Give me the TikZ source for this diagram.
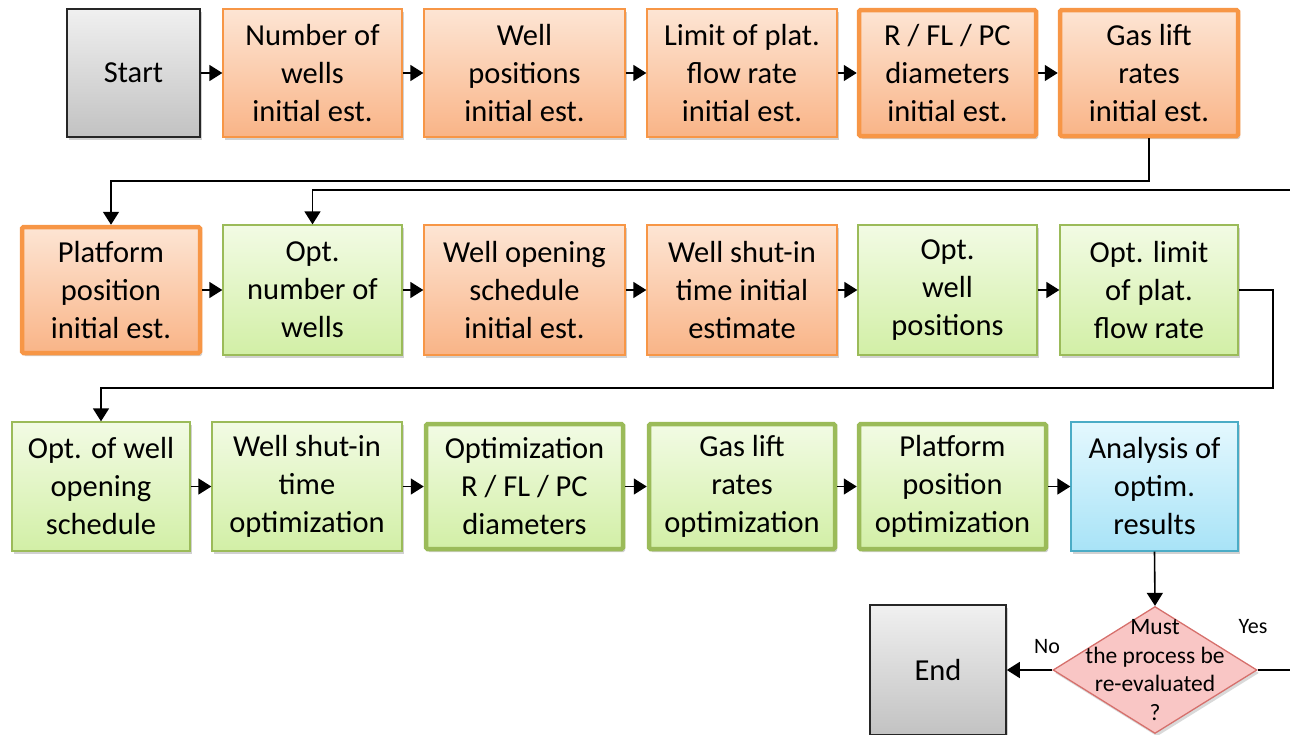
\documentclass[tikz,border=0pt]{standalone}
\usepackage{fontspec}
\setmainfont{Carlito}
\usetikzlibrary{arrows.meta,shapes.geometric,shadows}
\definecolor{orB}{HTML}{F79646}
\definecolor{orT}{HTML}{FDE5D4}
\definecolor{orBot}{HTML}{F9B487}
\definecolor{grB}{HTML}{9BBB59}
\definecolor{grT}{HTML}{F2FBE4}
\definecolor{grBot}{HTML}{D2EFA6}
\definecolor{blB}{HTML}{4BACC6}
\definecolor{blT}{HTML}{E4F8FE}
\definecolor{blBot}{HTML}{A8E3F7}
\definecolor{gyT}{HTML}{F0F0F0}
\definecolor{gyBot}{HTML}{C2C2C2}
\definecolor{rdB}{HTML}{D6706C}
\definecolor{rdF}{HTML}{F9C6C5}
\tikzset{
  box/.style={rectangle, align=center, inner sep=0pt,
    font=\fontsize{30.5}{38}\selectfont,
    general shadow={fill=black, opacity=0.18, shadow xshift=2pt, shadow yshift=-3pt}},
  orbox/.style={box, draw=orB, line width=1.3pt, top color=orT, bottom color=orBot},
  orthick/.style={orbox, line width=4.5pt, rounded corners=1.5pt},
  grbox/.style={box, draw=grB, line width=1.3pt, top color=grT, bottom color=grBot},
  grthick/.style={grbox, line width=4.5pt, rounded corners=1.5pt},
  blbox/.style={box, draw=blB, line width=1.3pt, top color=blT, bottom color=blBot},
  gybox/.style={box, draw=black!85, line width=1.6pt, top color=gyT, bottom color=gyBot},
  decision/.style={diamond, draw=rdB, line width=1.3pt, fill=rdF, inner sep=0pt,
    general shadow={fill=black, opacity=0.15, shadow xshift=2pt, shadow yshift=-3pt}},
  arr/.style={line width=1.6pt, -{Triangle[length=13pt,width=16pt]}},
  lbl/.style={font=\fontsize{22}{26}\selectfont, inner sep=0pt}
}
\begin{document}
\begin{tikzpicture}[x=1pt,y=-1pt]
\useasboundingbox (0,0) rectangle (1290,734);
% Row 1
\node[gybox, minimum width=133pt, minimum height=128pt] (s) at (133.5,73) {Start};
\node[orbox, minimum width=179pt, minimum height=128pt] (a1) at (312.5,73) {Number of\\wells\\initial est.};
\node[orbox, minimum width=201pt, minimum height=128pt] (a2) at (524.5,73) {Well\\positions\\initial est.};
\node[orbox, minimum width=190pt, minimum height=128pt] (a3) at (742,73) {Limit of plat.\\flow rate\\initial est.};
\node[orthick, minimum width=177pt, minimum height=126pt] (a4) at (947.5,73) {R / FL / PC\\diameters\\initial est.};
\node[orthick, minimum width=178pt, minimum height=126pt] (a5) at (1149,73) {Gas lift\\rates\\initial est.};
% Row 2
\node[orthick, minimum width=178pt, minimum height=126pt] (b1) at (111,290) {Platform\\position\\initial est.};
\node[grbox, minimum width=179pt, minimum height=130pt] (b2) at (312.5,290) {Opt.\\number of\\wells};
\node[orbox, minimum width=201pt, minimum height=130pt] (b3) at (524.5,290) {Well opening\\schedule\\initial est.};
\node[orbox, minimum width=190pt, minimum height=130pt] (b4) at (742,290) {Well shut-in\\time initial\\estimate};
\node[grbox, minimum width=179pt, minimum height=130pt] (b5) at (947.5,290) {Opt.\\well\\positions};
\node[grbox, minimum width=178pt, minimum height=130pt] (b6) at (1149,290) {Opt. limit\\of plat.\\flow rate};
% Row 3
\node[grbox, minimum width=178pt, minimum height=129pt] (c1) at (101,486.5) {Opt. of well\\opening\\schedule};
\node[grbox, minimum width=190pt, minimum height=129pt] (c2) at (307,486.5) {Well shut-in\\time\\optimization};
\node[grthick, minimum width=197pt, minimum height=125pt] (c3) at (524.5,486.5) {Optimization\\R / FL / PC\\diameters};
\node[grthick, minimum width=186pt, minimum height=125pt] (c4) at (742,486.5) {Gas lift\\rates\\optimization};
\node[grthick, minimum width=187pt, minimum height=125pt] (c5) at (952.5,486.5) {Platform\\position\\optimization};
\node[blbox, minimum width=167pt, minimum height=129pt] (c6) at (1154.5,486.5) {Analysis of\\optim.\\results};
% Decision and end
\node[decision, minimum width=204pt, minimum height=127pt] (d) at (1155,670) {};
\node[align=center, inner sep=0pt, font=\fontsize{23.5}{28.5}\selectfont] (dt) at (1155,670) {Must\\the process be\\re-evaluated\\?};
\node[gybox, minimum width=136pt, minimum height=130pt] (e) at (938,670) {End};
% Row arrows
\draw[arr] (s) -- (a1);
\draw[arr] (a1) -- (a2);
\draw[arr] (a2) -- (a3);
\draw[arr] (a3) -- (a4);
\draw[arr] (a4) -- (a5);
\draw[arr] (b1) -- (b2);
\draw[arr] (b2) -- (b3);
\draw[arr] (b3) -- (b4);
\draw[arr] (b4) -- (b5);
\draw[arr] (b5) -- (b6);
\draw[arr] (c1) -- (c2);
\draw[arr] (c2) -- (c3);
\draw[arr] (c3) -- (c4);
\draw[arr] (c4) -- (c5);
\draw[arr] (c5) -- (c6);
% Connectors between rows
\draw[arr] (a5.south) |- (600,181) -| (b1.north);
\draw[arr] (b6.east) -| (1273,388) -| (c1.north);
\draw[arr] (c6.south) -- (d.north);
\draw[arr] (d.west) -- (e.east);
\draw[arr] (d.east) -- (1310,670) |- (1000,190) -| (b2.north);
% Labels
\node[lbl] (no) at (1047,647) {No};
\node[lbl] (yes) at (1253,627) {Yes};
\end{tikzpicture}
\end{document}
